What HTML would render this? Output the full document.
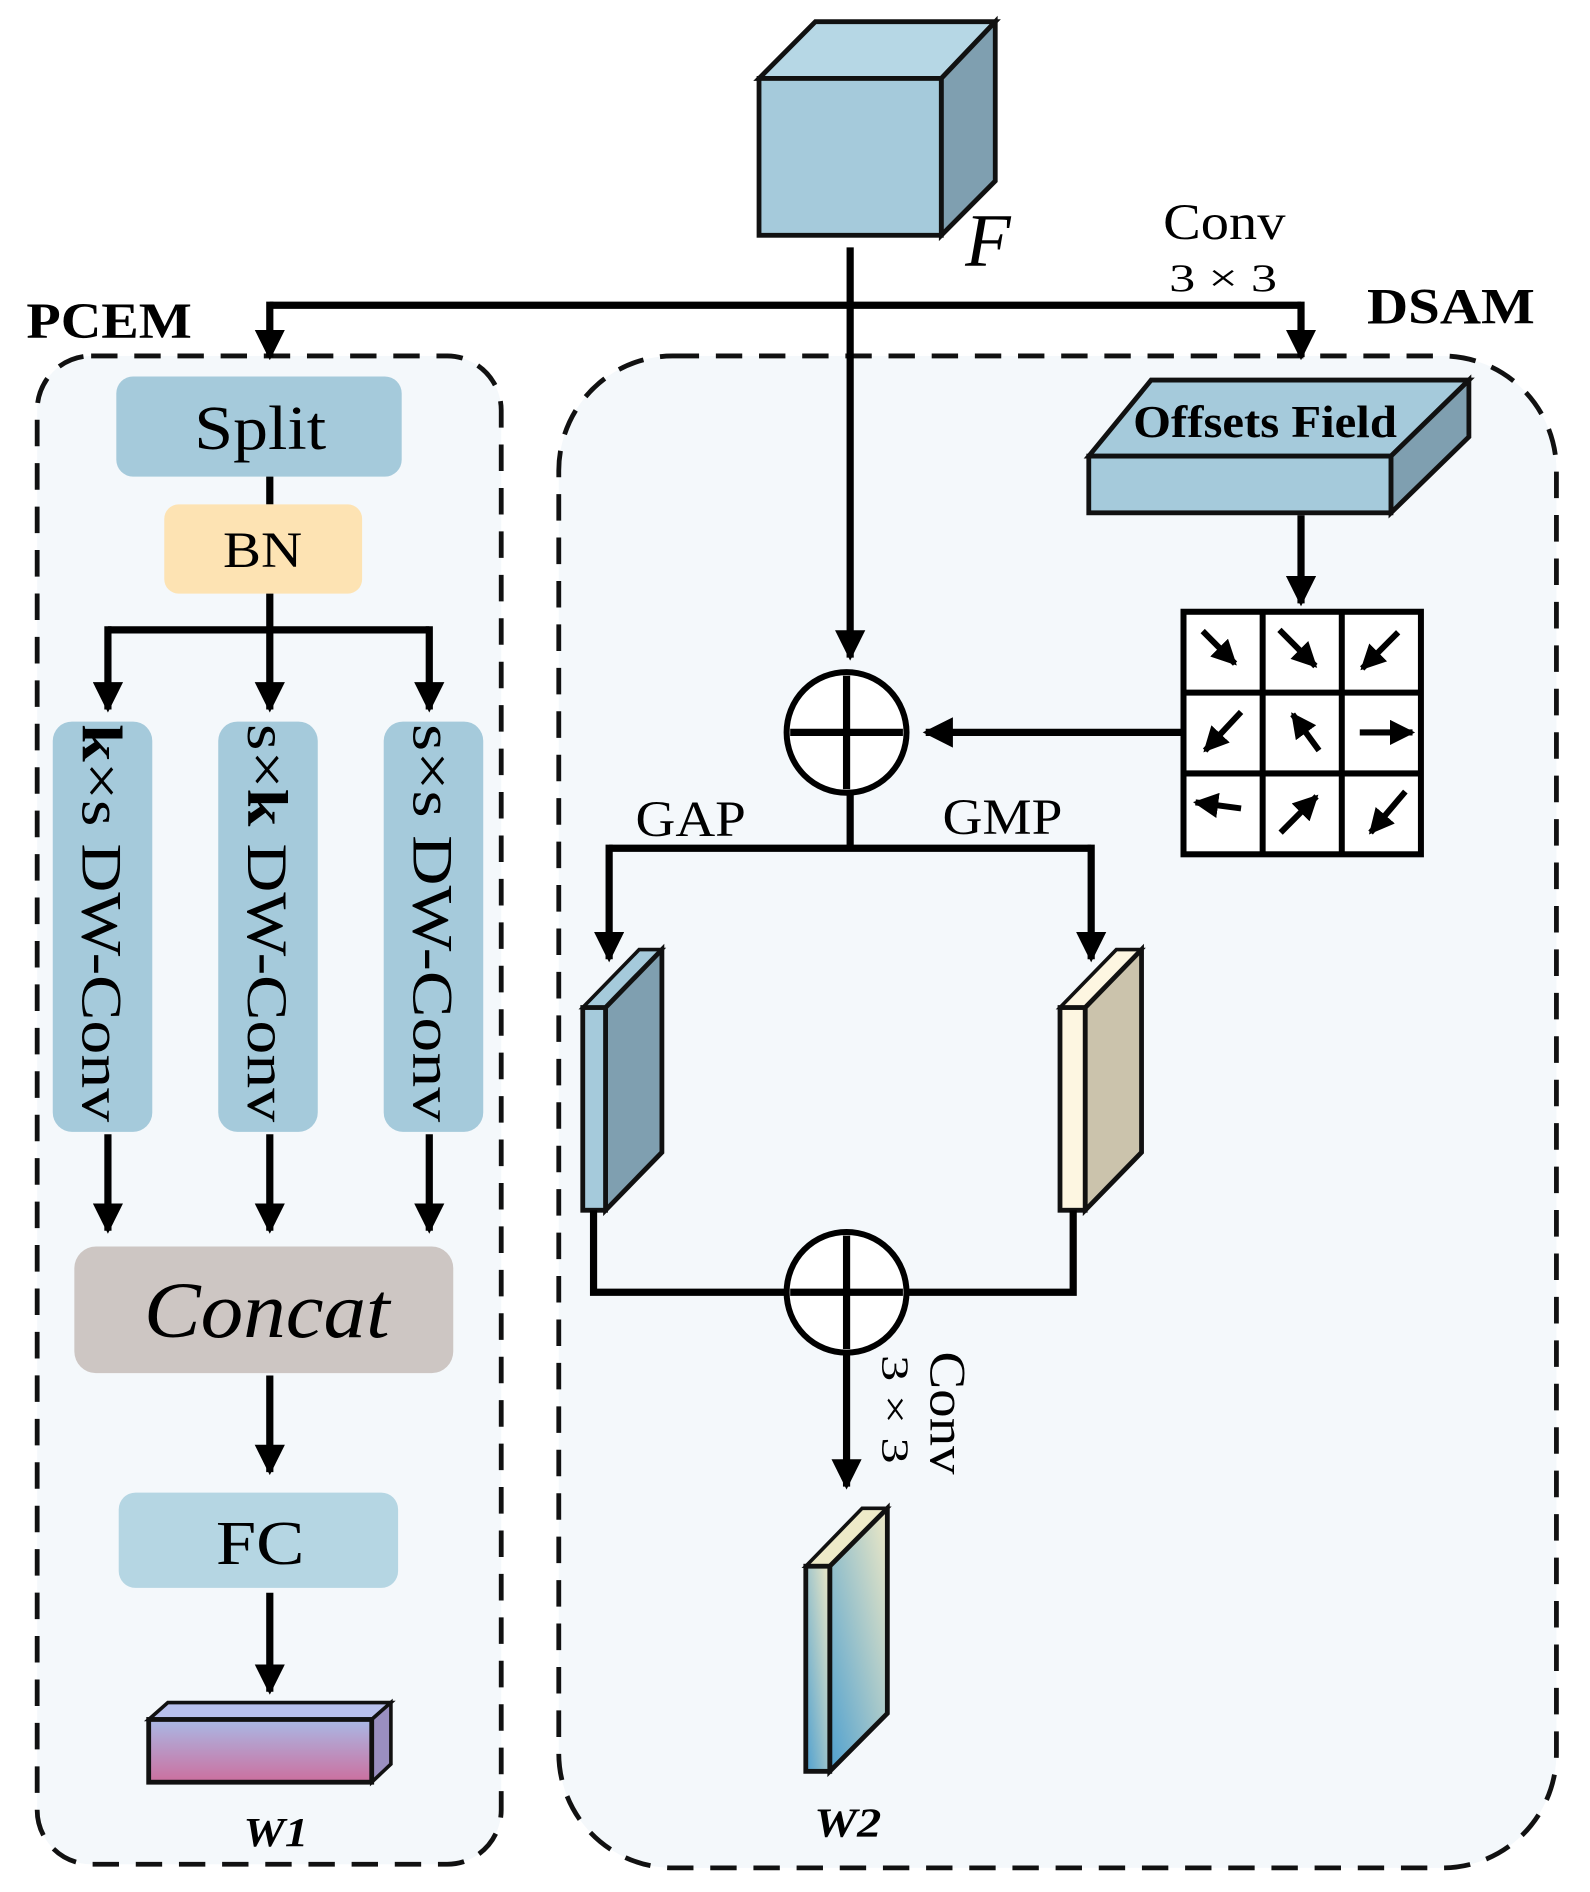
<!DOCTYPE html>
<html><head><meta charset="utf-8"><style>
html,body{margin:0;padding:0;background:#fff;}
svg{display:block;}
text{font-family:"Liberation Serif",serif;}
</style></head><body>
<svg width="1590" height="1892" viewBox="0 0 1326 1568" preserveAspectRatio="none" xmlns="http://www.w3.org/2000/svg">
<defs>
<marker id="ah" viewBox="0 0 10 10" refX="9" refY="5" markerWidth="4.2" markerHeight="4.2" markerUnits="strokeWidth" orient="auto"><path d="M0,0 L10,5 L0,10 z" fill="#000"/></marker>
<linearGradient id="gw1" x1="0" y1="0" x2="0" y2="1"><stop offset="0" stop-color="#a9b9e6"/><stop offset="1" stop-color="#cc6f9e"/></linearGradient>
<linearGradient id="gw2" x1="0" y1="1" x2="1" y2="0"><stop offset="0" stop-color="#4fa0cf"/><stop offset="1" stop-color="#efe9c6"/></linearGradient>
</defs>
<rect x="0" y="0" width="1326" height="1568" fill="#fff"/>
<rect x="31" y="295" width="387" height="1250" rx="45" fill="#f4f8fb" stroke="#111" stroke-width="4" stroke-dasharray="22,14"/>
<rect x="466" y="295" width="832" height="1253" rx="95" fill="#f4f8fb" stroke="#111" stroke-width="4" stroke-dasharray="22,14"/>
<text x="22" y="280" font-size="42" font-weight="bold" textLength="138" lengthAdjust="spacingAndGlyphs">PCEM</text>
<text x="1140" y="268" font-size="42" font-weight="bold" textLength="140" lengthAdjust="spacingAndGlyphs">DSAM</text>
<polygon points="633,65 680,18 830,18 785,65" fill="#b6d7e5" stroke="#111" stroke-width="4"/>
<polygon points="785,65 830,18 830,150 785,195" fill="#7f9fb0" stroke="#111" stroke-width="4"/>
<rect x="633" y="65" width="152" height="130" fill="#a5cadb" stroke="#111" stroke-width="4"/>
<text x="805" y="220" font-size="62" font-style="italic">F</text>
<line x1="709" y1="205" x2="709" y2="545" stroke="#000" stroke-width="6" marker-end="url(#ah)"/>
<polyline points="225,253 1085,253" fill="none" stroke="#000" stroke-width="6"/>
<line x1="225" y1="250" x2="225" y2="296" stroke="#000" stroke-width="6" marker-end="url(#ah)"/>
<line x1="1085" y1="250" x2="1085" y2="296" stroke="#000" stroke-width="6" marker-end="url(#ah)"/>
<text x="970" y="198" font-size="42" textLength="102" lengthAdjust="spacingAndGlyphs">Conv</text>
<text x="975" y="241" font-size="32" textLength="90" lengthAdjust="spacingAndGlyphs">3 × 3</text>
<rect x="97" y="312" width="238" height="83" rx="14" fill="#a5cadb"/>
<text x="162" y="372" font-size="52" textLength="110" lengthAdjust="spacingAndGlyphs">Split</text>
<line x1="225" y1="395" x2="225" y2="418" stroke="#000" stroke-width="6"/>
<rect x="137" y="418" width="165" height="74" rx="12" fill="#fde3b3"/>
<text x="186" y="470" font-size="42" textLength="66" lengthAdjust="spacingAndGlyphs">BN</text>
<line x1="225" y1="492" x2="225" y2="522" stroke="#000" stroke-width="6"/>
<polyline points="90,522 358,522" stroke="#000" stroke-width="6" fill="none"/>
<line x1="90" y1="519" x2="90" y2="588" stroke="#000" stroke-width="6" marker-end="url(#ah)"/>
<line x1="225" y1="522" x2="225" y2="588" stroke="#000" stroke-width="6" marker-end="url(#ah)"/>
<line x1="358" y1="519" x2="358" y2="588" stroke="#000" stroke-width="6" marker-end="url(#ah)"/>
<rect x="44" y="598" width="83" height="340" rx="16" fill="#a5cadb"/>
<rect x="182" y="598" width="83" height="340" rx="16" fill="#a5cadb"/>
<rect x="320" y="598" width="83" height="340" rx="16" fill="#a5cadb"/>
<text transform="translate(69,598) rotate(90)" font-size="48" x="2" textLength="330" lengthAdjust="spacingAndGlyphs"><tspan font-weight="bold">k</tspan>×s DW-Conv</text>
<text transform="translate(207,598) rotate(90)" font-size="48" x="2" textLength="330" lengthAdjust="spacingAndGlyphs">s×<tspan font-weight="bold">k</tspan> DW-Conv</text>
<text transform="translate(345,598) rotate(90)" font-size="48" x="2" textLength="330" lengthAdjust="spacingAndGlyphs">s×s DW-Conv</text>
<line x1="90" y1="940" x2="90" y2="1020" stroke="#000" stroke-width="6" marker-end="url(#ah)"/>
<line x1="225" y1="940" x2="225" y2="1020" stroke="#000" stroke-width="6" marker-end="url(#ah)"/>
<line x1="358" y1="940" x2="358" y2="1020" stroke="#000" stroke-width="6" marker-end="url(#ah)"/>
<rect x="62" y="1033" width="316" height="105" rx="18" fill="#cdc6c3"/>
<text x="120" y="1108" font-size="66" font-style="italic" textLength="205" lengthAdjust="spacingAndGlyphs">Concat</text>
<line x1="225" y1="1140" x2="225" y2="1220" stroke="#000" stroke-width="6" marker-end="url(#ah)"/>
<rect x="99" y="1237" width="233" height="79" rx="14" fill="#b5d6e3"/>
<text x="180" y="1296" font-size="52" textLength="74" lengthAdjust="spacingAndGlyphs">FC</text>
<line x1="225" y1="1320" x2="225" y2="1402" stroke="#000" stroke-width="6" marker-end="url(#ah)"/>
<polygon points="124,1425 140,1411 326,1411 310,1425" fill="#b8c0ec" stroke="#111" stroke-width="3"/>
<polygon points="310,1425 326,1411 326,1462 310,1477" fill="#9a8fc0" stroke="#111" stroke-width="3"/>
<rect x="124" y="1425" width="186" height="52" fill="url(#gw1)" stroke="#111" stroke-width="4"/>
<text x="203" y="1530" font-size="34" font-style="italic" font-weight="bold" textLength="54" lengthAdjust="spacingAndGlyphs">W1</text>
<polygon points="908,378 960,315 1225,315 1160,378" fill="#a5cadb" stroke="#111" stroke-width="4"/>
<polygon points="1160,378 1225,315 1225,362 1160,425" fill="#7f9fb0" stroke="#111" stroke-width="4"/>
<rect x="908" y="378" width="252" height="47" fill="#a5cadb" stroke="#111" stroke-width="4"/>
<text x="945" y="362" font-size="38" font-weight="bold" textLength="220" lengthAdjust="spacingAndGlyphs">Offsets Field</text>
<line x1="1085" y1="427" x2="1085" y2="500" stroke="#000" stroke-width="6" marker-end="url(#ah)"/>
<rect x="987" y="507" width="198" height="201" fill="#fff" stroke="#000" stroke-width="5"/>
<line x1="1053" y1="507" x2="1053" y2="708" stroke="#000" stroke-width="5"/>
<line x1="1119" y1="507" x2="1119" y2="708" stroke="#000" stroke-width="5"/>
<line x1="987" y1="574" x2="1185" y2="574" stroke="#000" stroke-width="5"/>
<line x1="987" y1="641" x2="1185" y2="641" stroke="#000" stroke-width="5"/>
<g stroke="#000" stroke-width="5" fill="none" marker-end="url(#ah)">
<line x1="1003" y1="523" x2="1030" y2="550"/>
<line x1="1067" y1="522" x2="1097" y2="552"/>
<line x1="1166" y1="524" x2="1136" y2="554"/>
<line x1="1035" y1="590" x2="1005" y2="622"/>
<line x1="1100" y1="622" x2="1078" y2="592"/>
<line x1="1134" y1="607" x2="1178" y2="607"/>
<line x1="1035" y1="670" x2="997" y2="665"/>
<line x1="1068" y1="690" x2="1098" y2="660"/>
<line x1="1172" y1="656" x2="1143" y2="690"/>
</g>
<line x1="985" y1="607" x2="772" y2="607" stroke="#000" stroke-width="6" marker-end="url(#ah)"/>
<circle cx="706" cy="607" r="50" fill="#fff" stroke="#000" stroke-width="5"/>
<line x1="706" y1="560" x2="706" y2="654" stroke="#000" stroke-width="6"/>
<line x1="659" y1="607" x2="753" y2="607" stroke="#000" stroke-width="6"/>
<line x1="709" y1="657" x2="709" y2="703" stroke="#000" stroke-width="6"/>
<polyline points="508,703 910,703" stroke="#000" stroke-width="6" fill="none"/>
<line x1="508" y1="700" x2="508" y2="795" stroke="#000" stroke-width="6" marker-end="url(#ah)"/>
<line x1="910" y1="700" x2="910" y2="795" stroke="#000" stroke-width="6" marker-end="url(#ah)"/>
<text x="530" y="693" font-size="42" textLength="92" lengthAdjust="spacingAndGlyphs">GAP</text>
<text x="786" y="691" font-size="42" textLength="100" lengthAdjust="spacingAndGlyphs">GMP</text>
<polygon points="486,835 533,787 552,787 505,835" fill="#a5cadb" stroke="#111" stroke-width="3"/>
<polygon points="505,835 552,787 552,955 505,1003" fill="#7f9fb0" stroke="#111" stroke-width="4"/>
<rect x="486" y="835" width="19" height="168" fill="#a5cadb" stroke="#111" stroke-width="4"/>
<polygon points="884,835 931,787 952,787 905,835" fill="#fdf6e1" stroke="#111" stroke-width="3"/>
<polygon points="905,835 952,787 952,955 905,1003" fill="#cbc3ac" stroke="#111" stroke-width="4"/>
<rect x="884" y="835" width="21" height="168" fill="#fdf6e1" stroke="#111" stroke-width="4"/>
<polyline points="495,1003 495,1071 658,1071" fill="none" stroke="#000" stroke-width="6"/>
<polyline points="895,1003 895,1071 754,1071" fill="none" stroke="#000" stroke-width="6"/>
<circle cx="706" cy="1071" r="50" fill="#fff" stroke="#000" stroke-width="5"/>
<line x1="706" y1="1024" x2="706" y2="1118" stroke="#000" stroke-width="6"/>
<line x1="659" y1="1071" x2="753" y2="1071" stroke="#000" stroke-width="6"/>
<line x1="706" y1="1121" x2="706" y2="1232" stroke="#000" stroke-width="6" marker-end="url(#ah)"/>
<text transform="translate(776,1120) rotate(90)" font-size="42" textLength="102" lengthAdjust="spacingAndGlyphs">Conv</text>
<text transform="translate(736,1123) rotate(90)" font-size="32" textLength="90" lengthAdjust="spacingAndGlyphs">3 × 3</text>
<polygon points="672,1298 719,1250 740,1250 692,1298" fill="#eeeac8" stroke="#111" stroke-width="3"/>
<polygon points="692,1298 740,1250 740,1420 692,1468" fill="url(#gw2)" stroke="#111" stroke-width="4"/>
<rect x="672" y="1298" width="20" height="170" fill="url(#gw2)" stroke="#111" stroke-width="4"/>
<text x="679" y="1522" font-size="34" font-style="italic" font-weight="bold" textLength="56" lengthAdjust="spacingAndGlyphs">W2</text>
</svg>
</body></html>
